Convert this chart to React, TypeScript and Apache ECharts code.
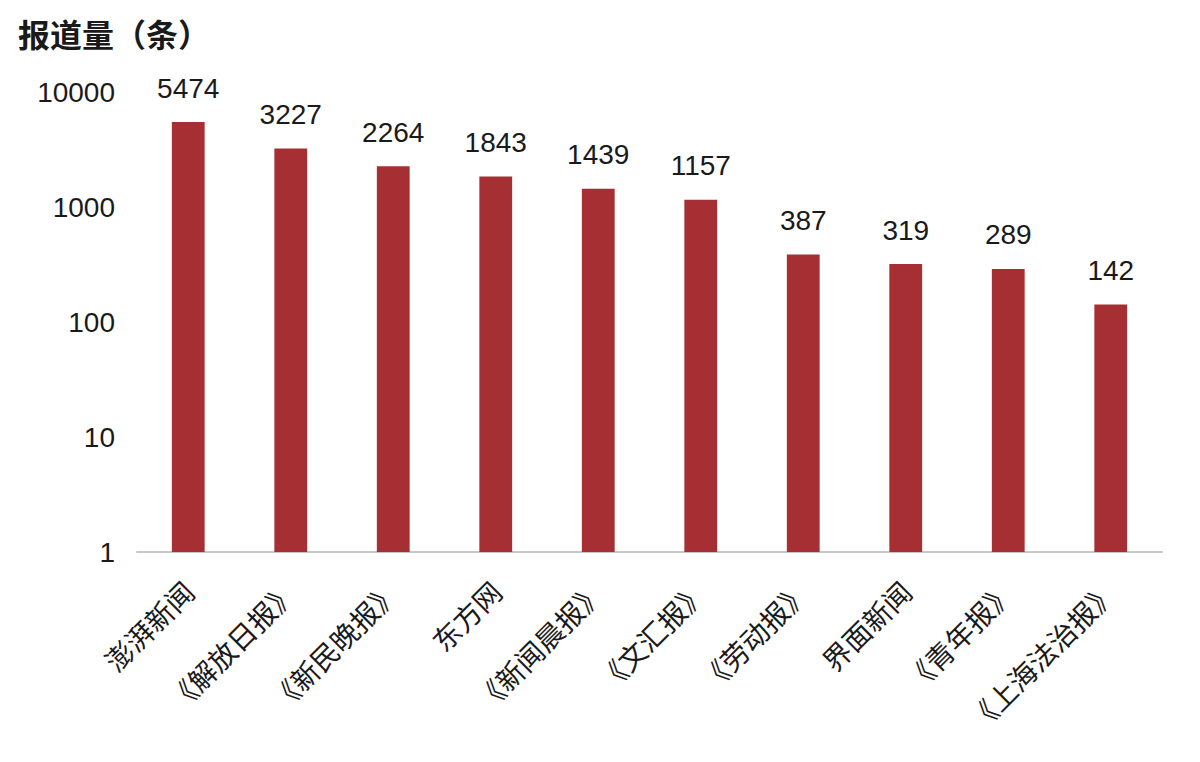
import React, { useEffect, useRef } from "react";
import * as echarts from "echarts";

const categories = ["澎湃新闻", "《解放日报》", "《新民晚报》", "东方网", "《新闻晨报》", "《文汇报》", "《劳动报》", "界面新闻", "《青年报》", "《上海法治报》"];
const reportCounts = [5474, 3227, 2264, 1843, 1439, 1157, 387, 319, 289, 142];
const yTitle = "报道量（条）";

const FONT = "'Noto Sans CJK SC', 'Noto Sans', sans-serif";
const NUM_FONT = "'Liberation Sans', Arial, sans-serif";

export default function App() {
  const ref = useRef<HTMLDivElement>(null);
  useEffect(() => {
    if (!ref.current) return;
    const chart = echarts.init(ref.current, undefined, { renderer: "svg" });
    chart.setOption({
      animation: false,
      backgroundColor: "#ffffff",
      graphic: [
        {
          type: "text",
          left: 10,
          top: 9,
          style: { text: yTitle, font: `bold 32px ${FONT}`, fill: "#1a1a1a" },
        },
      ],
      grid: { left: 129, right: 30, top: 84, bottom: 202, containLabel: false },
      xAxis: {
        type: "category",
        data: categories,
        axisLine: { show: true, lineStyle: { color: "#c8c8c8", width: 2 } },
        axisTick: { show: false },
        axisLabel: {
          rotate: 45,
          interval: 0,
          margin: 34,
          fontSize: 28,
          fontFamily: FONT,
          color: "#1a1a1a",
        },
      },
      yAxis: {
        type: "log",
        logBase: 10,
        min: 1,
        max: 10000,
        axisLine: { show: false },
        axisTick: { show: false },
        splitLine: { show: false },
        axisLabel: {
          fontSize: 28,
          fontFamily: NUM_FONT,
          color: "#1a1a1a",
          margin: 22,
          formatter: (v: number) => String(Math.round(v)),
        },
      },
      series: [
        {
          type: "bar",
          data: reportCounts,
          barWidth: "32%",
          itemStyle: { color: "#a52f33" },
          label: {
            show: true,
            position: "top",
            distance: 20,
            fontSize: 28,
            fontFamily: NUM_FONT,
            color: "#1a1a1a",
          },
        },
      ],
    });
    return () => chart.dispose();
  }, []);
  return <div ref={ref} style={{ width: 1184, height: 746 }} />;
}
